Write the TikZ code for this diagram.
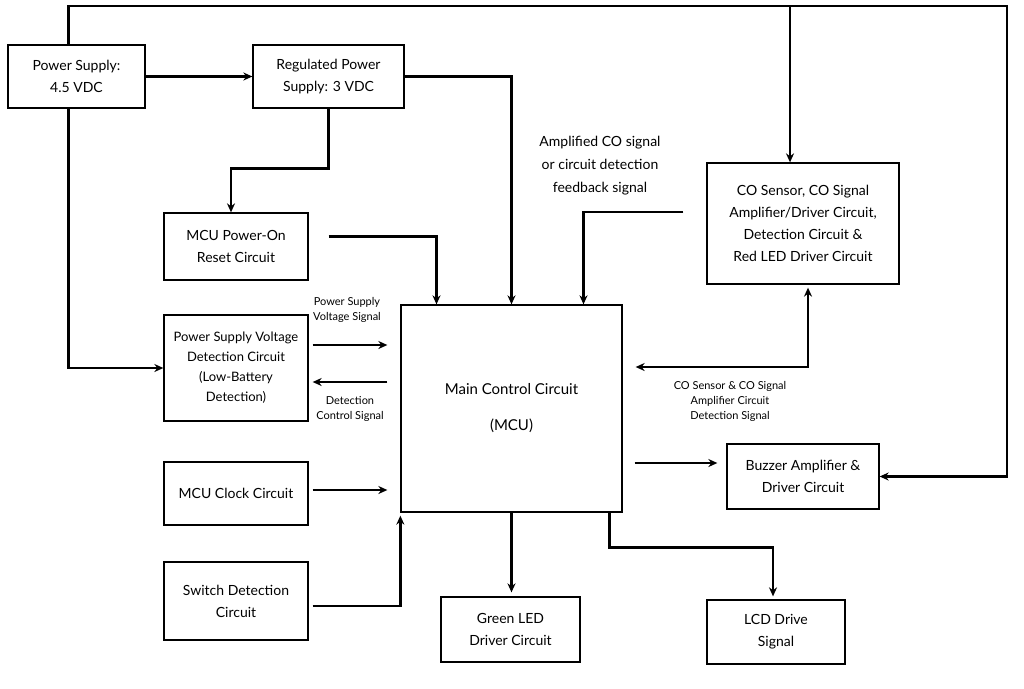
\documentclass[tikz,border=0pt]{standalone}
\usepackage{fontspec}
\setmainfont{Lato}
\usetikzlibrary{arrows.meta,calc}
\begin{document}
\begin{tikzpicture}[x=1pt,y=-1pt,
  box/.style={draw,line width=1.3pt,align=center,font=\fontsize{14}{22}\selectfont,inner sep=0pt},
  con/.style={line width=2.5pt,-{Stealth[length=9pt,width=8pt]}},
  lbl/.style={align=center,font=\fontsize{11}{15}\selectfont},
  lbl2/.style={align=center,font=\fontsize{14}{23}\selectfont}]
\useasboundingbox[fill=white] (0,0) rectangle (1024,688);
\node[box,minimum width=137pt,minimum height=63pt] (ps) at (76.5,76.5) {Power Supply:\\4.5 VDC};
\node[box,minimum width=151pt,minimum height=63pt] (reg) at (328.5,76.5) {Regulated Power\\Supply: 3 VDC};
\node[box,minimum width=144pt,minimum height=67pt] (rst) at (236,246.5) {MCU Power-On\\Reset Circuit};
\node[box,minimum width=144pt,minimum height=106pt,font=\fontsize{13}{20}\selectfont] (psv) at (236,368) {Power Supply Voltage\\Detection Circuit\\(Low-Battery\\Detection)};
\node[box,minimum width=144pt,minimum height=63pt] (clk) at (236,493.5) {MCU Clock Circuit};
\node[box,minimum width=144pt,minimum height=78pt] (sw) at (236,601) {Switch Detection\\Circuit};
\node[box,minimum width=221pt,minimum height=207pt,font=\fontsize{15}{36}\selectfont] (mcu) at (511.5,408.5) {Main Control Circuit\\(MCU)};
\node[box,minimum width=192pt,minimum height=121pt] (co) at (803,223.5) {CO Sensor, CO Signal\\Amplifier/Driver Circuit,\\Detection Circuit \&\\Red LED Driver Circuit};
\node[box,minimum width=152pt,minimum height=65pt] (bz) at (803,476.5) {Buzzer Amplifier \&\\Driver Circuit};
\node[box,minimum width=139pt,minimum height=65pt] (gl) at (510.5,629.5) {Green LED\\Driver Circuit};
\node[box,minimum width=138pt,minimum height=64pt] (lcd) at (776,632) {LCD Drive\\Signal};
\node[lbl2] (fb) at (600,166) {Amplified CO signal\\or circuit detection\\feedback signal};
\node[lbl] (pvs) at (347,310) {Power Supply\\Voltage Signal};
\node[lbl] (dcs) at (350,409) {Detection\\Control Signal};
\node[lbl] (cod) at (730,401) {CO Sensor \& CO Signal\\Amplifier Circuit\\Detection Signal};
\coordinate (tr) at (1007,6);
\coordinate (cot) at ($(co.north)+(-13,0)$);
\draw[con] ($(ps.north)+(-8,0)$) |- (tr) |- (bz.east);
\draw[con] (cot |- tr) -- (cot);
\draw[con] (ps.east) -- (reg.west);
\draw[con] ($(ps.south)+(-8,0)$) |- (psv.west);
\draw[con] (reg.east) -| (mcu.north);
\draw[con] (reg.south) -- ++(0,60) -| ($(rst.north)+(-5,0)$);
\draw[con] ($(rst.east)+(20,-10)$) -| ($(mcu.north)+(-75,0)$);
\draw[con] ($(co.west)+(-23,-11.5)$) -| ($(mcu.north)+(72,0)$);
\draw[con] ($(psv.east)+(4,-23)$) -- ($(mcu.west)+(-13,-63.5)$);
\draw[con] ($(mcu.west)+(-13,-26.5)$) -- ($(psv.east)+(4,14)$);
\draw[con] ($(clk.east)+(4,-3.5)$) -- ($(mcu.west)+(-13,81.5)$);
\draw[con] ($(sw.east)+(4,5)$) -| ($(mcu.south west)+(0,3)$);
\draw[con,{Stealth[length=9pt,width=8pt]}-{Stealth[length=9pt,width=8pt]}] ($(mcu.east)+(13,-41.5)$) -| ($(co.south)+(5,3)$);
\draw[con] ($(mcu.east)+(12,54.5)$) -- ($(bz.west)+(-9,-13.5)$);
\draw[con] (mcu.south) -- ($(gl.north)+(1,-4)$);
\draw[con] ($(mcu.south)+(98,0)$) -- ++(0,35) -| ($(lcd.north)+(-3,-3)$);
\end{tikzpicture}
\end{document}
